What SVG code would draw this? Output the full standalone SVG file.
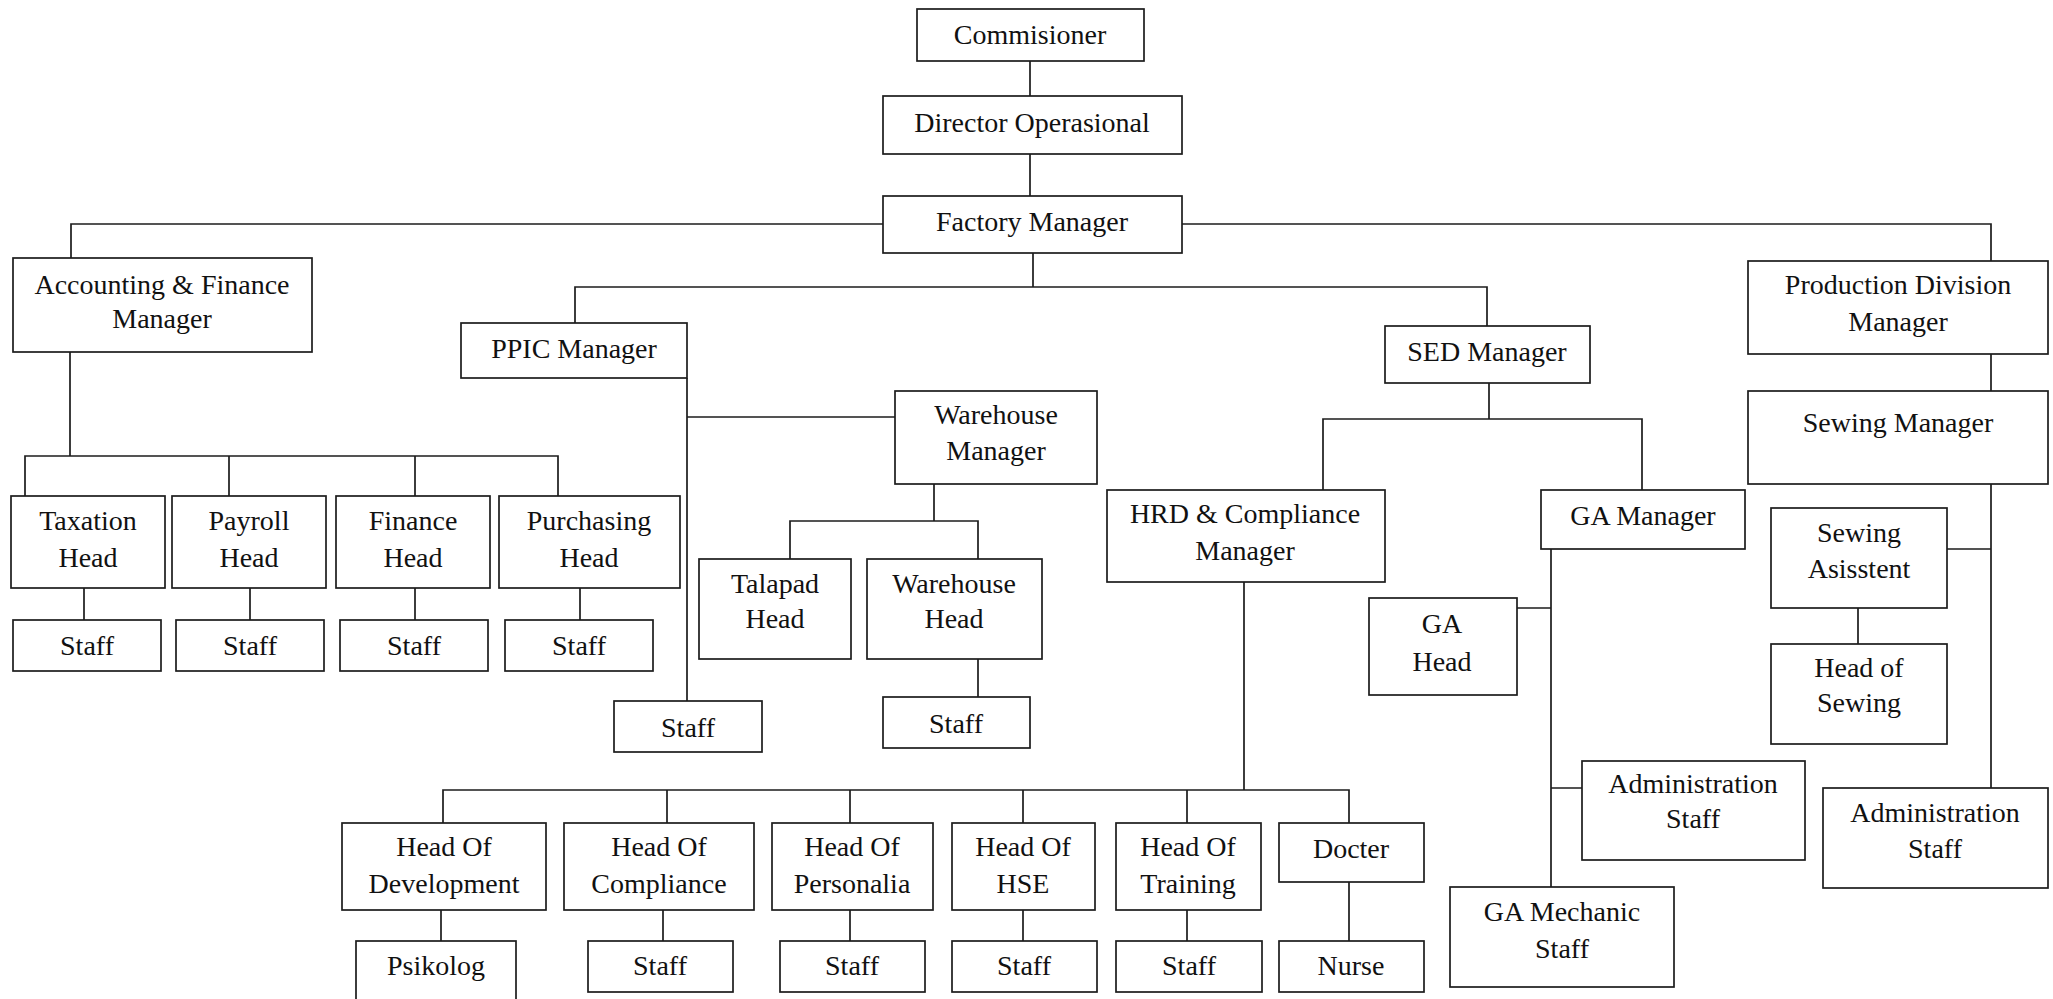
<svg xmlns="http://www.w3.org/2000/svg" width="2053" height="999" viewBox="0 0 2053 999">
<style>
.b{fill:#fff;stroke:#1c1c1c;stroke-width:1.7}
.c{fill:none;stroke:#1c1c1c;stroke-width:1.7}
text{font-family:"Liberation Serif","Times New Roman",serif;font-size:28px;fill:#111;text-anchor:middle}
</style>
<rect width="2053" height="999" fill="#fff"/>
<g id="connectors" class="c">
<path d="M1030,61V96M1030,154V196"/>
<path d="M71,258V224H883M1182,224H1991V261"/>
<path d="M1033,253V287M575,323V287H1487V326"/>
<path d="M70,352V456M25,496V456H558V496M229,456V496M415,456V496"/>
<path d="M84,588V620M250,588V620M415,588V620M580,588V620"/>
<path d="M687,378V701M687,417H895"/>
<path d="M934,484V521M790,559V521H978V559M978,659V697"/>
<path d="M1489,383V419M1323,490V419H1642V490"/>
<path d="M1244,582V790M443,823V790H1349V823M667,790V823M850,790V823M1023,790V823M1187,790V823"/>
<path d="M441,910V941M663,910V941M850,910V941M1023,910V941M1187,910V941M1349,882V941"/>
<path d="M1551,549V887M1517,608H1551M1551,788H1582"/>
<path d="M1991,354V391M1991,484V788M1947,549H1991M1858,608V644"/>
</g>
<g id="commisioner"><rect class="b" x="917" y="9" width="227" height="52"/><text x="1030" y="44">Commisioner</text></g>
<g id="director"><rect class="b" x="883" y="96" width="299" height="58"/><text x="1032" y="132">Director Operasional</text></g>
<g id="factory"><rect class="b" x="883" y="196" width="299" height="57"/><text x="1032" y="231">Factory Manager</text></g>
<g id="accfin"><rect class="b" x="13" y="258" width="299" height="94"/><text x="162" y="294">Accounting &amp; Finance</text><text x="162" y="328">Manager</text></g>
<g id="ppic"><rect class="b" x="461" y="323" width="226" height="55"/><text x="574" y="358">PPIC Manager</text></g>
<g id="sed"><rect class="b" x="1385" y="326" width="205" height="57"/><text x="1487" y="361">SED Manager</text></g>
<g id="production"><rect class="b" x="1748" y="261" width="300" height="93"/><text x="1898" y="294">Production Division</text><text x="1898" y="331">Manager</text></g>
<g id="taxation"><rect class="b" x="11" y="496" width="154" height="92"/><text x="88" y="530">Taxation</text><text x="88" y="567">Head</text></g>
<g id="payroll"><rect class="b" x="172" y="496" width="154" height="92"/><text x="249" y="530">Payroll</text><text x="249" y="567">Head</text></g>
<g id="finance"><rect class="b" x="336" y="496" width="154" height="92"/><text x="413" y="530">Finance</text><text x="413" y="567">Head</text></g>
<g id="purchasing"><rect class="b" x="499" y="496" width="181" height="92"/><text x="589" y="530">Purchasing</text><text x="589" y="567">Head</text></g>
<g id="staff-tax"><rect class="b" x="13" y="620" width="148" height="51"/><text x="87" y="655">Staff</text></g>
<g id="staff-pay"><rect class="b" x="176" y="620" width="148" height="51"/><text x="250" y="655">Staff</text></g>
<g id="staff-fin"><rect class="b" x="340" y="620" width="148" height="51"/><text x="414" y="655">Staff</text></g>
<g id="staff-pur"><rect class="b" x="505" y="620" width="148" height="51"/><text x="579" y="655">Staff</text></g>
<g id="wh-manager"><rect class="b" x="895" y="391" width="202" height="93"/><text x="996" y="424">Warehouse</text><text x="996" y="460">Manager</text></g>
<g id="talapad"><rect class="b" x="699" y="559" width="152" height="100"/><text x="775" y="593">Talapad</text><text x="775" y="628">Head</text></g>
<g id="wh-head"><rect class="b" x="867" y="559" width="175" height="100"/><text x="954" y="593">Warehouse</text><text x="954" y="628">Head</text></g>
<g id="staff-ppic"><rect class="b" x="614" y="701" width="148" height="51"/><text x="688" y="737">Staff</text></g>
<g id="staff-wh"><rect class="b" x="883" y="697" width="147" height="51"/><text x="956" y="733">Staff</text></g>
<g id="hrd"><rect class="b" x="1107" y="490" width="278" height="92"/><text x="1245" y="523">HRD &amp; Compliance</text><text x="1245" y="560">Manager</text></g>
<g id="ga-manager"><rect class="b" x="1541" y="490" width="204" height="59"/><text x="1643" y="525">GA Manager</text></g>
<g id="ga-head"><rect class="b" x="1369" y="598" width="148" height="97"/><text x="1442" y="633">GA</text><text x="1442" y="671">Head</text></g>
<g id="ga-admin"><rect class="b" x="1582" y="761" width="223" height="99"/><text x="1693" y="793">Administration</text><text x="1693" y="828">Staff</text></g>
<g id="ga-mechanic"><rect class="b" x="1450" y="887" width="224" height="100"/><text x="1562" y="921">GA Mechanic</text><text x="1562" y="958">Staff</text></g>
<g id="sewing-manager"><rect class="b" x="1748" y="391" width="300" height="93"/><text x="1898" y="432">Sewing Manager</text></g>
<g id="sewing-asst"><rect class="b" x="1771" y="508" width="176" height="100"/><text x="1859" y="542">Sewing</text><text x="1859" y="578">Asisstent</text></g>
<g id="head-sewing"><rect class="b" x="1771" y="644" width="176" height="100"/><text x="1859" y="677">Head of</text><text x="1859" y="712">Sewing</text></g>
<g id="sew-admin"><rect class="b" x="1823" y="788" width="225" height="100"/><text x="1935" y="822">Administration</text><text x="1935" y="858">Staff</text></g>
<g id="head-dev"><rect class="b" x="342" y="823" width="204" height="87"/><text x="444" y="856">Head Of</text><text x="444" y="893">Development</text></g>
<g id="head-comp"><rect class="b" x="564" y="823" width="190" height="87"/><text x="659" y="856">Head Of</text><text x="659" y="893">Compliance</text></g>
<g id="head-pers"><rect class="b" x="772" y="823" width="161" height="87"/><text x="852" y="856">Head Of</text><text x="852" y="893">Personalia</text></g>
<g id="head-hse"><rect class="b" x="952" y="823" width="143" height="87"/><text x="1023" y="856">Head Of</text><text x="1023" y="893">HSE</text></g>
<g id="head-train"><rect class="b" x="1116" y="823" width="145" height="87"/><text x="1188" y="856">Head Of</text><text x="1188" y="893">Training</text></g>
<g id="docter"><rect class="b" x="1279" y="823" width="145" height="59"/><text x="1351" y="858">Docter</text></g>
<g id="psikolog"><rect class="b" x="356" y="941" width="160" height="66"/><text x="436" y="975">Psikolog</text></g>
<g id="staff-comp"><rect class="b" x="588" y="941" width="145" height="51"/><text x="660" y="975">Staff</text></g>
<g id="staff-pers"><rect class="b" x="780" y="941" width="145" height="51"/><text x="852" y="975">Staff</text></g>
<g id="staff-hse"><rect class="b" x="952" y="941" width="145" height="51"/><text x="1024" y="975">Staff</text></g>
<g id="staff-train"><rect class="b" x="1116" y="941" width="146" height="51"/><text x="1189" y="975">Staff</text></g>
<g id="nurse"><rect class="b" x="1279" y="941" width="145" height="51"/><text x="1351" y="975">Nurse</text></g>
</svg>
